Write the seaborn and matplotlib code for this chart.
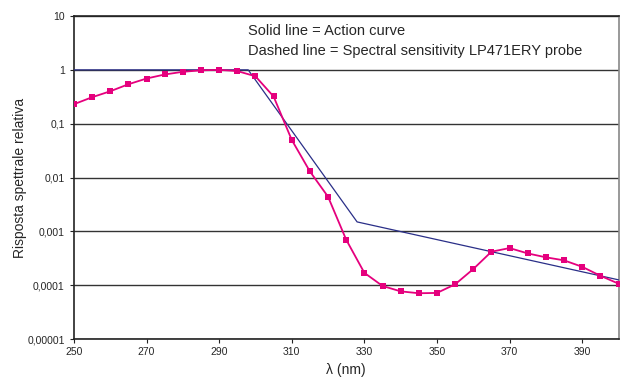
import numpy as np
import pandas as pd
import seaborn as sns
import matplotlib.pyplot as plt
from matplotlib.ticker import FixedLocator, FixedFormatter

# Data

# Probe spectral sensitivity (pink, 5 nm steps)
probe_wl = [250, 255, 260, 265, 270, 275, 280, 285, 290, 295, 300, 305, 310, 315, 320,
            325, 330, 335, 340, 345, 350, 355, 360, 365, 370, 375, 380, 385, 390, 395, 400]
probe_resp = [0.23, 0.31, 0.40, 0.54, 0.69, 0.82, 0.92, 0.98, 1.0, 0.95, 0.76, 0.32, 0.05,
              0.013, 0.0044, 0.0007, 0.00017, 0.000097, 0.000077, 0.000071, 0.000072,
              0.000104, 0.0002, 0.00042, 0.00049, 0.00039, 0.00033, 0.00029, 0.00022,
              0.00015, 0.000107]

# Action curve (blue, break points)
action_wl = [250, 298, 328, 400]
action_resp = [1.0, 1.0, 0.0015, 0.000126]

y_ticks = [0.00001, 0.0001, 0.001, 0.01, 0.1, 1, 10]
y_labels = ['0,00001', '0,0001', '0,001', '0,01', '0,1', '1', '10']
x_ticks = [250, 270, 290, 310, 330, 350, 370, 390]

sns.set_style('white')
plt.rcParams['font.family'] = ['Liberation Sans', 'DejaVu Sans']

fig = plt.figure(figsize=(6.21, 3.81), dpi=100)
ax = fig.add_axes([0.119, 0.110, 0.877, 0.848])

df_probe = pd.DataFrame({'wl': probe_wl, 'resp': probe_resp})
df_action = pd.DataFrame({'wl': action_wl, 'resp': action_resp})

ax.set_yscale('log')
for t in y_ticks:
    ax.axhline(t, color='#333333', lw=1.0, zorder=1)

sns.lineplot(data=df_action, x='wl', y='resp', ax=ax, color='#2a2f88', lw=0.9, zorder=3)
sns.lineplot(data=df_probe, x='wl', y='resp', ax=ax, color='#e5007d', lw=1.3,
             marker='s', markersize=4.5, markeredgewidth=0, zorder=4)

ax.set_xlim(250, 400)
ax.set_ylim(0.00001, 10)
ax.yaxis.set_major_locator(FixedLocator(y_ticks))
ax.yaxis.set_major_formatter(FixedFormatter(y_labels))
ax.yaxis.set_minor_locator(FixedLocator([]))
ax.set_xticks(x_ticks)
ax.tick_params(axis='both', labelsize=7.5, length=3, width=0.8, color='#222222', direction='out')
ax.tick_params(axis='x', pad=3)
ax.tick_params(left=True, bottom=True)

for s in ax.spines.values():
    s.set_color('#222222')
    s.set_linewidth(1.2)
ax.spines['right'].set_color('#888888')

ax.set_xlabel('λ (nm)', fontsize=10, labelpad=4)
ax.set_ylabel('Risposta spettrale relativa', fontsize=10)
ax.yaxis.set_label_coords(-0.087, 0.5)

ax.text(0.319, 0.975, 'Solid line = Action curve\nDashed line = Spectral sensitivity LP471ERY probe',
        transform=ax.transAxes, fontsize=10.5, va='top', ha='left', linespacing=1.55)

fig.savefig('out.png', dpi=100)
